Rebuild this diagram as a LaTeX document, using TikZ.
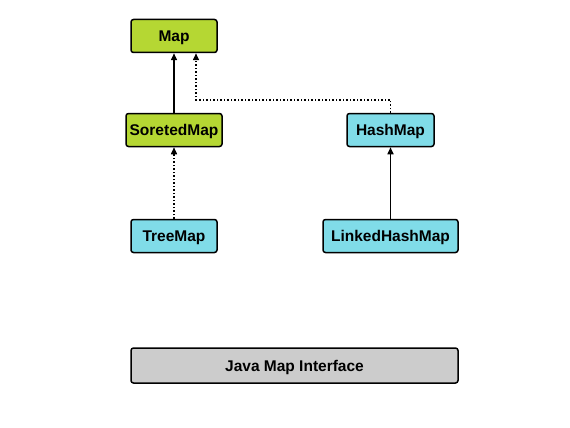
\documentclass[tikz,border=0pt]{standalone}
\usepackage{fontspec}
\setmainfont{Liberation Sans}
\usepackage{xcolor}
\usetikzlibrary{arrows.meta,calc,positioning}
\definecolor{ifgreen}{RGB}{181,215,51}
\definecolor{clblue}{RGB}{128,220,232}
\definecolor{legray}{RGB}{204,204,204}
\begin{document}
\begin{tikzpicture}[x=1pt, y=-1pt, >={Triangle[length=7pt,width=6pt]},
    box/.style={draw, line width=1.5pt, rounded corners=2.5pt, inner sep=0pt,
      minimum height=33pt, text height=11pt, text depth=0pt,
      font=\fontsize{15.5}{18}\selectfont\bfseries},
    iface/.style={box, fill=ifgreen},
    cls/.style={box, fill=clblue},
    link/.style={line width=1.5pt}]
    \useasboundingbox (0,0) rectangle (570,428);
    \node[iface, minimum width=86pt] (map) at (174,36) {Map};
    \node[iface, minimum width=96pt] (smap) at (174,130) {SoretedMap};
    \node[cls, minimum width=87pt] (hmap) at (390.5,130) {HashMap};
    \node[cls, minimum width=86pt] (tmap) at (174,236) {TreeMap};
    \node[cls, minimum width=135pt] (lhmap) at (390.5,236) {LinkedHashMap};
    \node[box, fill=legray, minimum width=327pt, minimum height=35pt] (legend) at (294.5,365.5) {Java Map Interface};
    \draw[link,->] (smap) -- (map);
    \draw[link,->] (lhmap) -- (hmap);
    \draw[link,dotted,->] (tmap) -- (smap);
    \coordinate (bend) at ($(hmap.north)+(0,-13)$);
    \draw[link,dotted,->] (hmap.north) -- (bend) -| ($(map.south)+(22,0)$);
  \end{tikzpicture}
\end{document}
